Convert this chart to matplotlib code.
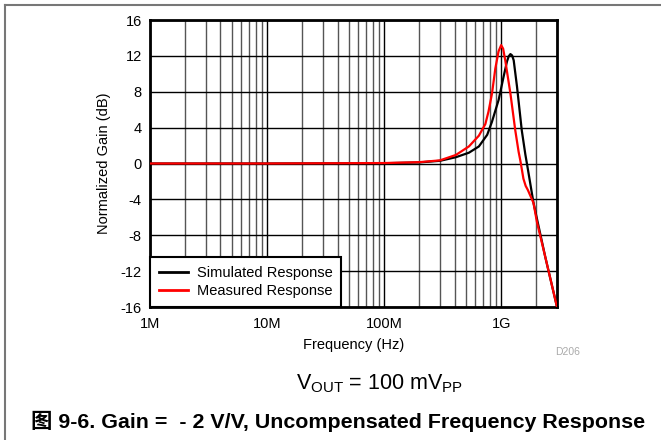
import matplotlib
matplotlib.use("Agg")
import matplotlib.pyplot as plt
from matplotlib.lines import Line2D
from matplotlib.ticker import FixedLocator, NullFormatter

plt.rcParams['font.family'] = ['Liberation Sans', 'Noto Sans CJK SC', 'DejaVu Sans']
plt.rcParams['mathtext.fontset'] = 'custom'
plt.rcParams['mathtext.rm'] = 'Liberation Sans'

# ---- data ----
measured_freq = [1e6, 1e7, 1e8, 2e8, 3e8, 4.1e8, 5.3e8, 6.45e8, 7.33e8, 7.8e8, 8.35e8, 8.92e8,
                 9.5e8, 1.0e9, 1.04e9, 1.084e9, 1.2e9, 1.32e9, 1.41e9, 1.46e9, 1.55e9,
                 1.62e9, 1.69e9, 1.89e9, 2.02e9, 2.38e9, 3.0e9]
measured_db = [0, 0, 0.05, 0.15, 0.35, 0.95, 1.9, 3.1, 4.4, 5.8, 7.8, 10.6,
               12.5, 13.2, 12.8, 11.5, 7.8, 3.7, 1.3, 0.3, -1.7,
               -2.5, -2.95, -4.4, -6.5, -10.4, -16]

simulated_freq = [1e6, 1e7, 1e8, 2e8, 3e8, 4.1e8, 5.3e8, 6.45e8, 7.6e8, 8.35e8, 9.52e8,
                  1.05e9, 1.12e9, 1.16e9, 1.2e9, 1.24e9, 1.28e9, 1.365e9, 1.5e9, 1.61e9,
                  1.70e9, 1.89e9, 2.38e9, 3.0e9]
simulated_db = [0, 0, 0.03, 0.12, 0.3, 0.7, 1.2, 1.9, 3.2, 4.66, 7.1,
                9.7, 11.35, 11.95, 12.2, 12.05, 11.5, 8.6, 3.7, 1.0,
                -0.8, -4.4, -10.4, -16]

x_ticks = [1e6, 1e7, 1e8, 1e9]
x_tick_labels = ['1M', '10M', '100M', '1G']
y_ticks = [-16, -12, -8, -4, 0, 4, 8, 12, 16]
series_labels = ['Simulated Response', 'Measured Response']

fig = plt.figure(figsize=(6.61, 4.40), dpi=100)
ax = fig.add_axes([150/661, 1-307/440, 407/661, 287/440])

ax.plot(simulated_freq, simulated_db, color='black', lw=1.6, label=series_labels[0], zorder=3)
ax.plot(measured_freq, measured_db, color='#ff0000', lw=1.6, label=series_labels[1], zorder=4)

ax.set_xscale('log')
ax.set_xlim(1e6, 3e9)
ax.set_ylim(-16, 16)
ax.set_xticks(x_ticks)
ax.set_xticklabels(x_tick_labels)
minors = [m * d for d in [1e6, 1e7, 1e8, 1e9] for m in range(2, 10) if m * d <= 3e9]
ax.xaxis.set_minor_locator(FixedLocator(minors))
ax.xaxis.set_minor_formatter(NullFormatter())
ax.set_yticks(y_ticks)
ax.set_yticklabels([str(v) for v in y_ticks])

ax.grid(which='major', axis='both', color='black', lw=1.0, zorder=1)
ax.grid(which='minor', axis='x', color='#555555', lw=1.0, zorder=1)
ax.set_axisbelow(True)
ax.tick_params(which='both', length=0, labelsize=10.5, colors='black')
ax.tick_params(axis='x', pad=7)
ax.tick_params(axis='y', pad=6)
for s in ax.spines.values():
    s.set_linewidth(2.0)
    s.set_color('black')

ax.set_xlabel('Frequency (Hz)', fontsize=10.5, labelpad=5)
ax.set_ylabel('Normalized Gain (dB)', fontsize=10.5, labelpad=7)

leg = ax.legend(loc='lower left', borderaxespad=0, fontsize=10.5, frameon=True,
                fancybox=False, handlelength=2.0, handletextpad=0.6, borderpad=0.6,
                labelspacing=0.3)
leg.get_frame().set_edgecolor('black')
leg.get_frame().set_linewidth(1.5)
leg.get_frame().set_alpha(1)
for ln in leg.get_lines():
    ln.set_linewidth(2.0)

fig.text(568/661, 1-352/440, 'D206', color='#aaaaaa', fontsize=7.5, ha='center', va='center')
fig.text(380/661, 1-384/440, r'V$_{\mathrm{OUT}}$ = 100 mV$_{\mathrm{PP}}$', fontsize=15.5,
         ha='center', va='center')
fig.text(338/661, 1-421/440, '图 9-6. Gain =  - 2 V/V, Uncompensated Frequency Response',
         fontsize=15.4, fontweight='bold', ha='center', va='center')

fig.add_artist(Line2D([5/661, 5/661], [0, 1-5/440], color='#777777', lw=1.5,
                      transform=fig.transFigure))
fig.add_artist(Line2D([5/661, 1], [1-5/440, 1-5/440], color='#777777', lw=1.5,
                      transform=fig.transFigure))

fig.savefig('out.png', dpi=100)
